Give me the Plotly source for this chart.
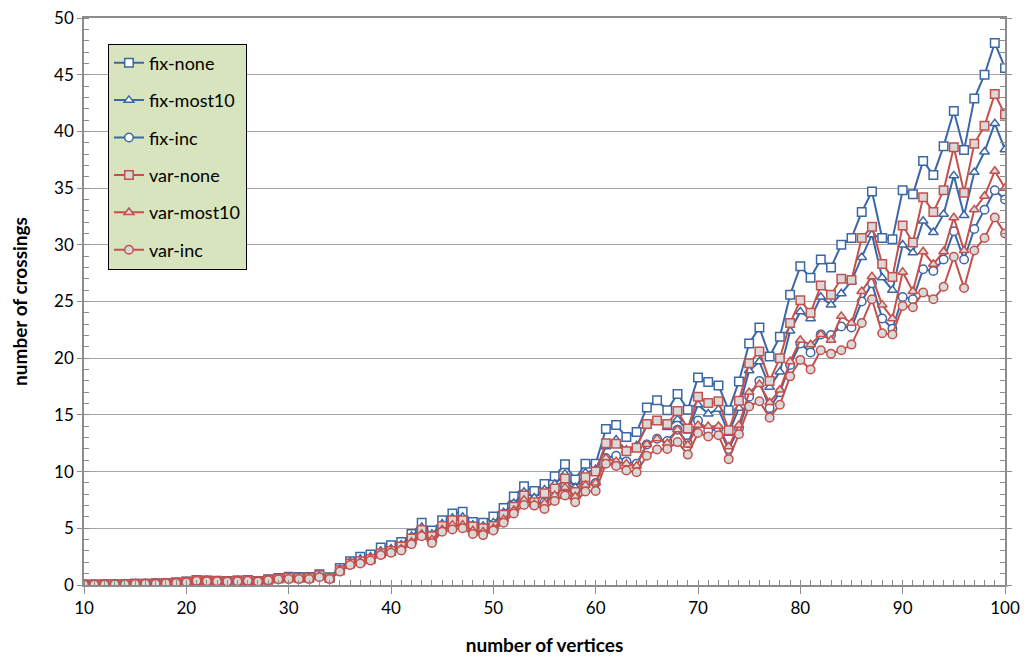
import plotly.graph_objects as go

vertices = list(range(10, 101))

fix_none = [0.05,0.05,0.06,0.07,0.08,0.10,0.12,0.15,0.18,0.22,0.30,0.45,0.40,0.38,0.35,0.40,0.45,0.36,0.50,0.62,0.72,0.70,0.70,0.94,0.68,
    1.5,2.1,2.5,2.7,3.3,3.5,
    3.8,4.5,5.5,4.8,5.7,6.3,6.45,5.55,5.5,6.05,
    6.8,7.8,8.7,8.3,8.9,9.6,10.65,9.3,10.7,10.7,
    13.75,14.1,13.05,13.5,15.65,16.3,15.4,16.85,15.45,18.3,
    17.9,17.6,15.4,17.95,21.3,22.7,20.15,21.9,25.6,28.1,
    27.1,28.7,28.0,30.0,30.6,32.9,34.7,30.6,30.5,34.8,
    34.45,37.4,36.15,38.7,41.8,38.35,42.9,45.0,47.8,45.6]

fix_most10 = [0.05,0.05,0.06,0.07,0.08,0.10,0.12,0.14,0.17,0.21,0.29,0.43,0.39,0.36,0.33,0.39,0.43,0.34,0.48,0.60,0.68,0.66,0.66,0.88,0.64,
    1.4,2.0,2.3,2.5,3.0,3.2,
    3.55,4.3,5.1,4.5,5.4,5.9,6.0,5.3,5.2,5.5,
    6.4,7.2,8.2,7.7,8.4,8.9,9.8,8.6,9.9,10.2,
    12.2,12.8,11.9,12.3,14.0,14.4,13.9,14.6,13.6,15.9,
    15.1,15.5,13.4,15.6,18.9,19.7,17.45,18.8,22.4,24.1,
    23.5,25.4,24.7,25.7,26.8,28.9,30.9,27.1,26.0,30.0,
    29.3,32.1,31.1,32.7,36.1,32.6,36.4,38.2,40.7,38.4]

fix_inc = [0.04,0.05,0.05,0.06,0.07,0.09,0.11,0.13,0.16,0.20,0.27,0.41,0.37,0.35,0.32,0.37,0.41,0.33,0.46,0.57,0.64,0.63,0.63,0.82,0.60,
    1.25,1.8,2.0,2.2,2.7,2.9,
    3.15,3.8,4.5,4.0,4.9,5.2,5.3,4.8,4.6,5.0,
    5.8,6.6,7.4,7.2,7.3,8.0,8.7,7.9,8.9,9.0,
    11.2,11.4,10.9,10.7,12.4,12.9,12.7,13.7,12.5,14.5,
    13.6,13.8,12.0,13.8,16.6,18.0,15.6,17.0,19.4,21.3,
    20.5,22.1,22.05,22.8,22.7,25.0,26.6,23.5,22.6,25.4,
    25.2,27.85,27.7,28.7,31.2,28.7,31.4,33.1,34.8,34.0]

var_none = [0.05,0.05,0.06,0.07,0.08,0.10,0.11,0.14,0.17,0.21,0.28,0.42,0.38,0.36,0.33,0.38,0.42,0.33,0.47,0.58,0.66,0.64,0.64,0.85,0.62,
    1.3,1.9,2.1,2.3,2.8,3.0,
    3.4,4.1,4.85,4.3,5.2,5.7,5.7,5.15,5.0,5.2,
    6.2,6.9,7.9,7.3,8.1,8.5,9.4,8.2,9.5,10.0,
    12.5,12.45,11.8,12.1,14.2,14.5,14.2,15.35,13.8,16.6,
    16.05,16.2,13.65,16.25,19.55,20.6,18.0,20.0,23.1,25.1,
    24.0,26.4,25.6,27.0,26.9,30.6,31.6,28.3,27.15,31.7,
    30.2,34.2,32.9,34.8,38.6,34.6,38.9,40.5,43.3,41.5]

var_most10 = [0.04,0.05,0.05,0.06,0.07,0.09,0.10,0.13,0.16,0.19,0.26,0.40,0.36,0.34,0.31,0.36,0.40,0.31,0.44,0.55,0.60,0.58,0.58,0.76,0.56,
    1.25,1.8,2.0,2.2,2.7,2.9,
    3.2,3.8,4.5,4.0,4.9,5.3,5.3,4.8,4.7,5.0,
    5.8,6.6,7.5,7.1,7.2,7.9,8.6,7.8,8.8,9.0,
    11.2,10.9,10.7,10.5,12.4,12.9,12.5,13.7,12.35,14.1,
    14.0,14.0,12.2,14.1,17.0,17.7,16.1,17.2,19.7,21.6,
    21.2,22.1,21.6,23.7,23.1,25.9,27.2,24.7,23.5,27.6,
    25.9,29.4,28.3,29.4,32.4,29.5,33.1,34.3,36.5,35.0]

var_inc = [0.04,0.04,0.05,0.06,0.07,0.08,0.10,0.12,0.15,0.18,0.25,0.38,0.34,0.32,0.30,0.34,0.38,0.30,0.42,0.50,0.52,0.52,0.52,0.68,0.52,
    1.18,1.76,1.9,2.15,2.65,2.85,
    3.05,3.6,4.3,3.7,4.7,4.9,5.0,4.5,4.4,4.8,
    5.5,6.3,7.05,7.0,6.7,7.4,7.9,7.3,8.25,8.3,
    10.7,10.5,10.1,9.95,11.4,11.95,12.0,12.6,11.5,13.4,
    13.1,13.2,11.1,13.3,15.75,16.2,14.75,15.9,18.4,19.85,
    19.0,20.7,20.4,20.7,21.2,23.1,25.2,22.2,22.1,24.6,
    24.5,25.8,25.2,26.3,28.95,26.2,29.5,30.6,32.4,31.0]

series_names = ["fix-none", "fix-most10", "fix-inc", "var-none", "var-most10", "var-inc"]
series_values = [fix_none, fix_most10, fix_inc, var_none, var_most10, var_inc]

BLUE = "#3a67a5"
RED = "#c4504c"
styles = [
    (BLUE, "white", "square"),
    (BLUE, "white", "triangle-up"),
    (BLUE, "white", "circle"),
    (RED, "#d9d9d9", "square"),
    (RED, "#d9d9d9", "triangle-up"),
    (RED, "#d9d9d9", "circle"),
]

fig = go.Figure()
for i, (name, vals) in enumerate(zip(series_names, series_values)):
    col, fill, sym = styles[i]
    fig.add_trace(go.Scatter(
        x=vertices, y=vals, name=name, mode="lines+markers",
        legendgroup=name,
        line=dict(color=col, width=2),
        marker=dict(symbol=sym, size=8.5, color=fill, line=dict(color=col, width=1.5)),
    ))

FONT = "Lato, 'Open Sans', sans-serif"
fig.update_layout(
    width=1013, height=648,
    margin=dict(l=76, r=16, t=10, b=71),
    paper_bgcolor="white", plot_bgcolor="white",
    font=dict(family=FONT, color="black", size=16),
    showlegend=True,
    legend=dict(
        x=0.026, y=0.955, xanchor="left", yanchor="top",
        bgcolor="#d7e4bd", bordercolor="black", borderwidth=1,
        font=dict(size=18, family=FONT),
        tracegroupgap=11,
    ),
    xaxis=dict(
        range=[10, 100], tick0=10, dtick=10,
        showgrid=False, zeroline=False,
        showline=True, linecolor="#8c8c8c", linewidth=1.5, mirror=True,
        ticks="outside", ticklen=7, tickcolor="#8c8c8c",
        minor=dict(dtick=1, ticks="inside", ticklen=5, tickcolor="#8c8c8c", showgrid=False),
        tickfont=dict(size=17),
        title=dict(text="<b>number of vertices</b>", font=dict(size=19), standoff=24),
        automargin=False,
    ),
    yaxis=dict(
        range=[0, 50], tick0=0, dtick=5,
        showgrid=True, gridcolor="#a6a6a6", gridwidth=1.3,
        zeroline=False,
        showline=True, linecolor="#8c8c8c", linewidth=1.5, mirror="ticks",
        ticks="outside", ticklen=5, tickcolor="#8c8c8c",
        minor=dict(dtick=1, ticks="inside", ticklen=5, tickcolor="#8c8c8c", showgrid=False),
        tickfont=dict(size=17),
        ticklabeloverflow="allow",
        title=dict(text="<b>number of crossings</b>", font=dict(size=19), standoff=22),
        automargin=False,
    ),
)

fig.write_html("out.html")
